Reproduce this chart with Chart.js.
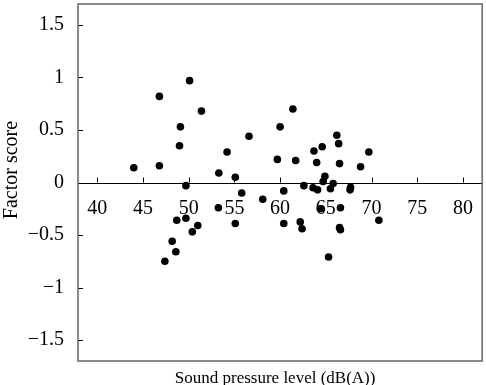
<!DOCTYPE html>
<html>
<head>
<meta charset="utf-8">
<script src="https://cdn.jsdelivr.net/npm/chart.js@4.4.1/dist/chart.umd.min.js"></script>
<style>
  html, body { margin: 0; padding: 0; background: #fff; }
  #wrap { width: 486px; height: 385px; }
</style>
</head>
<body>
<div id="wrap"><canvas id="scatter"></canvas></div>
<script>
/* Factor score vs sound pressure level — scatter */
const soundLevel = [
  44.0, 46.8, 46.8, 50.1, 51.4, 49.1, 49.0, 53.3, 54.2, 55.1, 49.7, 55.8,
  56.6, 61.4, 60.0, 59.7, 61.7, 63.7, 64.6, 66.2, 66.4, 64.0, 66.5, 69.7,
  68.8, 64.9, 64.7, 58.1, 60.4, 62.6, 63.6, 64.1, 65.5, 65.8, 67.65, 67.7,
  53.25, 48.7, 49.7, 51.0, 50.4, 48.2, 48.6, 47.4, 55.1, 60.4, 62.2, 62.4,
  64.4, 66.6, 66.5, 66.6, 65.3, 70.8,
];
const factorScore = [
  0.14, 0.82, 0.16, 0.97, 0.68, 0.53, 0.35, 0.09, 0.29, 0.05, -0.03, -0.10,
  0.44, 0.70, 0.53, 0.22, 0.21, 0.30, 0.34, 0.45, 0.37, 0.19, 0.18, 0.29,
  0.15, 0.06, 0.01, -0.16, -0.08, -0.03, -0.05, -0.07, -0.06, -0.01, -0.07, -0.045,
  -0.24, -0.36, -0.34, -0.41, -0.47, -0.56, -0.66, -0.75, -0.39, -0.39, -0.375, -0.44,
  -0.25, -0.24, -0.43, -0.45, -0.71, -0.36,
];
const xTicks = [40, 45, 50, 55, 60, 65, 70, 75, 80];
const yTicks = [-1.5, -1, -0.5, 0, 0.5, 1, 1.5];

const serif = '"Liberation Serif", "DejaVu Serif", serif';

// box, zero line, inward ticks and the x labels that sit under the zero line
const framePlugin = {
  id: 'frame',
  beforeDatasetsDraw(chart) {
    const { ctx, chartArea: a, scales: { x, y } } = chart;
    const y0 = y.getPixelForValue(0);
    ctx.save();
    ctx.strokeStyle = '#000';
    ctx.lineWidth = 1;
    ctx.beginPath();
    ctx.moveTo(a.left, Math.round(y0) + 0.5);
    ctx.lineTo(a.right, Math.round(y0) + 0.5);
    xTicks.forEach((v) => {
      const px = Math.round(x.getPixelForValue(v)) + 0.5;
      ctx.moveTo(px, y0);
      ctx.lineTo(px, y0 - 5);
    });
    yTicks.forEach((v) => {
      const py = Math.round(y.getPixelForValue(v)) + 0.5;
      ctx.moveTo(a.left, py);
      ctx.lineTo(a.left + 5, py);
    });
    ctx.stroke();

    ctx.fillStyle = '#000';
    ctx.font = `20px ${serif}`;
    ctx.textAlign = 'center';
    ctx.textBaseline = 'middle';
    xTicks.forEach((v) => ctx.fillText(String(v), x.getPixelForValue(v), y0 + 26));

    ctx.strokeStyle = '#666';
    ctx.lineWidth = 1.5;
    ctx.strokeRect(a.left, a.top, a.right - a.left, a.bottom - a.top);

    ctx.font = `17px ${serif}`;
    ctx.fillText('Sound pressure level (dB(A))', (a.left + a.right) / 2 - 5, 379);

    ctx.translate(12, 170);
    ctx.rotate(-Math.PI / 2);
    ctx.font = `20px ${serif}`;
    ctx.fillText('Factor score', 0, 0);
    ctx.restore();
  },
};

new Chart(document.getElementById('scatter'), {
  type: 'scatter',
  data: {
    datasets: [{
      data: soundLevel.map((v, i) => ({ x: v, y: factorScore[i] })),
      backgroundColor: '#000',
      borderWidth: 0,
      pointRadius: 3.8,
      pointHoverRadius: 3.8,
    }],
  },
  options: {
    responsive: true,
    maintainAspectRatio: false,
    animation: false,
    layout: { padding: { top: 4, right: 1, left: 0, bottom: 0 } },
    plugins: { legend: { display: false }, tooltip: { enabled: false } },
    scales: {
      x: {
        type: 'linear',
        min: 37.9,
        max: 82.1,
        afterBuildTicks: (s) => { s.ticks = xTicks.map((v) => ({ value: v })); },
        afterFit: (s) => { s.height = 24; s.paddingLeft = 0; s.paddingRight = 0; },
        ticks: { display: false },
        grid: { display: false },
        border: { display: false },
      },
      y: {
        min: -1.7,
        max: 1.7,
        afterBuildTicks: (s) => { s.ticks = yTicks.map((v) => ({ value: v })); },
        afterFit: (s) => { s.width = 78; s.paddingTop = 0; s.paddingBottom = 0; },
        ticks: {
          color: '#000',
          padding: 14,
          font: { family: serif, size: 20 },
          callback: (v) => String(v).replace('-', '\u2212'),
        },
        grid: { display: false, drawTicks: false },
        border: { display: false },
      },
    },
  },
  plugins: [framePlugin],
});
</script>
</body>
</html>
